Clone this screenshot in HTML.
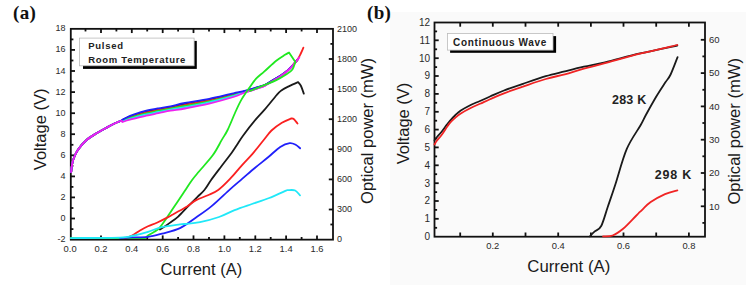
<!DOCTYPE html>
<html><head><meta charset="utf-8"><style>
html,body{margin:0;padding:0;background:#fff;width:750px;height:289px;overflow:hidden}
svg{display:block}
text{font-family:"Liberation Sans",sans-serif}
.serif{font-family:"Liberation Serif",serif}
</style></head><body>
<svg width="750" height="289" viewBox="0 0 750 289">
<rect x="0" y="0" width="750" height="289" fill="#fff"/>
<rect x="390" y="12" width="356" height="273" fill="#fafafa"/>

<g stroke="#111" stroke-width="1.8" fill="none">
<rect x="70.8" y="28.85" width="262.2" height="210.8"/>
<line x1="85.5" y1="239.6" x2="85.5" y2="237.0"/>
<line x1="85.5" y1="28.85" x2="85.5" y2="31.450000000000003"/>
<line x1="101.0" y1="239.6" x2="101.0" y2="235.4"/>
<line x1="101.0" y1="28.85" x2="101.0" y2="33.050000000000004"/>
<line x1="116.4" y1="239.6" x2="116.4" y2="237.0"/>
<line x1="116.4" y1="28.85" x2="116.4" y2="31.450000000000003"/>
<line x1="131.8" y1="239.6" x2="131.8" y2="235.4"/>
<line x1="131.8" y1="28.85" x2="131.8" y2="33.050000000000004"/>
<line x1="147.2" y1="239.6" x2="147.2" y2="237.0"/>
<line x1="147.2" y1="28.85" x2="147.2" y2="31.450000000000003"/>
<line x1="162.7" y1="239.6" x2="162.7" y2="235.4"/>
<line x1="162.7" y1="28.85" x2="162.7" y2="33.050000000000004"/>
<line x1="178.1" y1="239.6" x2="178.1" y2="237.0"/>
<line x1="178.1" y1="28.85" x2="178.1" y2="31.450000000000003"/>
<line x1="193.5" y1="239.6" x2="193.5" y2="235.4"/>
<line x1="193.5" y1="28.85" x2="193.5" y2="33.050000000000004"/>
<line x1="209.0" y1="239.6" x2="209.0" y2="237.0"/>
<line x1="209.0" y1="28.85" x2="209.0" y2="31.450000000000003"/>
<line x1="224.4" y1="239.6" x2="224.4" y2="235.4"/>
<line x1="224.4" y1="28.85" x2="224.4" y2="33.050000000000004"/>
<line x1="239.8" y1="239.6" x2="239.8" y2="237.0"/>
<line x1="239.8" y1="28.85" x2="239.8" y2="31.450000000000003"/>
<line x1="255.3" y1="239.6" x2="255.3" y2="235.4"/>
<line x1="255.3" y1="28.85" x2="255.3" y2="33.050000000000004"/>
<line x1="270.7" y1="239.6" x2="270.7" y2="237.0"/>
<line x1="270.7" y1="28.85" x2="270.7" y2="31.450000000000003"/>
<line x1="286.1" y1="239.6" x2="286.1" y2="235.4"/>
<line x1="286.1" y1="28.85" x2="286.1" y2="33.050000000000004"/>
<line x1="301.6" y1="239.6" x2="301.6" y2="237.0"/>
<line x1="301.6" y1="28.85" x2="301.6" y2="31.450000000000003"/>
<line x1="317.0" y1="239.6" x2="317.0" y2="235.4"/>
<line x1="317.0" y1="28.85" x2="317.0" y2="33.050000000000004"/>
<line x1="70.8" y1="229.1" x2="73.39999999999999" y2="229.1"/>
<line x1="70.8" y1="218.5" x2="75.0" y2="218.5"/>
<line x1="70.8" y1="208.0" x2="73.39999999999999" y2="208.0"/>
<line x1="70.8" y1="197.4" x2="75.0" y2="197.4"/>
<line x1="70.8" y1="186.9" x2="73.39999999999999" y2="186.9"/>
<line x1="70.8" y1="176.4" x2="75.0" y2="176.4"/>
<line x1="70.8" y1="165.8" x2="73.39999999999999" y2="165.8"/>
<line x1="70.8" y1="155.3" x2="75.0" y2="155.3"/>
<line x1="70.8" y1="144.8" x2="73.39999999999999" y2="144.8"/>
<line x1="70.8" y1="134.2" x2="75.0" y2="134.2"/>
<line x1="70.8" y1="123.7" x2="73.39999999999999" y2="123.7"/>
<line x1="70.8" y1="113.2" x2="75.0" y2="113.2"/>
<line x1="70.8" y1="102.6" x2="73.39999999999999" y2="102.6"/>
<line x1="70.8" y1="92.1" x2="75.0" y2="92.1"/>
<line x1="70.8" y1="81.5" x2="73.39999999999999" y2="81.5"/>
<line x1="70.8" y1="71.0" x2="75.0" y2="71.0"/>
<line x1="70.8" y1="60.5" x2="73.39999999999999" y2="60.5"/>
<line x1="70.8" y1="49.9" x2="75.0" y2="49.9"/>
<line x1="70.8" y1="39.4" x2="73.39999999999999" y2="39.4"/>
<line x1="333.0" y1="224.5" x2="330.4" y2="224.5"/>
<line x1="333.0" y1="209.5" x2="328.8" y2="209.5"/>
<line x1="333.0" y1="194.4" x2="330.4" y2="194.4"/>
<line x1="333.0" y1="179.4" x2="328.8" y2="179.4"/>
<line x1="333.0" y1="164.3" x2="330.4" y2="164.3"/>
<line x1="333.0" y1="149.3" x2="328.8" y2="149.3"/>
<line x1="333.0" y1="134.2" x2="330.4" y2="134.2"/>
<line x1="333.0" y1="119.2" x2="328.8" y2="119.2"/>
<line x1="333.0" y1="104.1" x2="330.4" y2="104.1"/>
<line x1="333.0" y1="89.1" x2="328.8" y2="89.1"/>
<line x1="333.0" y1="74.0" x2="330.4" y2="74.0"/>
<line x1="333.0" y1="59.0" x2="328.8" y2="59.0"/>
<line x1="333.0" y1="43.9" x2="330.4" y2="43.9"/>
</g>
<g fill="#2a2a2a" font-size="9">
<text transform="translate(65.6,242.1)" text-anchor="end">-2</text>
<text transform="translate(65.6,221.0)" text-anchor="end">0</text>
<text transform="translate(65.6,199.9)" text-anchor="end">2</text>
<text transform="translate(65.6,178.9)" text-anchor="end">4</text>
<text transform="translate(65.6,157.8)" text-anchor="end">6</text>
<text transform="translate(65.6,136.7)" text-anchor="end">8</text>
<text transform="translate(65.6,115.7)" text-anchor="end">10</text>
<text transform="translate(65.6,94.6)" text-anchor="end">12</text>
<text transform="translate(65.6,73.5)" text-anchor="end">14</text>
<text transform="translate(65.6,52.4)" text-anchor="end">16</text>
<text transform="translate(65.6,31.4)" text-anchor="end">18</text>
<text transform="translate(70.1,251.8)" text-anchor="middle" font-size="9.4">0.0</text>
<text transform="translate(101.0,251.8)" text-anchor="middle" font-size="9.4">0.2</text>
<text transform="translate(131.8,251.8)" text-anchor="middle" font-size="9.4">0.4</text>
<text transform="translate(162.7,251.8)" text-anchor="middle" font-size="9.4">0.6</text>
<text transform="translate(193.5,251.8)" text-anchor="middle" font-size="9.4">0.8</text>
<text transform="translate(224.4,251.8)" text-anchor="middle" font-size="9.4">1.0</text>
<text transform="translate(255.3,251.8)" text-anchor="middle" font-size="9.4">1.2</text>
<text transform="translate(286.1,251.8)" text-anchor="middle" font-size="9.4">1.4</text>
<text transform="translate(317.0,251.8)" text-anchor="middle" font-size="9.4">1.6</text>
<text transform="translate(337,242.4)">0</text>
<text transform="translate(337,212.3)">300</text>
<text transform="translate(337,182.2)">600</text>
<text transform="translate(337,152.1)">900</text>
<text transform="translate(337,122.0)">1200</text>
<text transform="translate(337,91.9)">1500</text>
<text transform="translate(337,61.8)">1800</text>
<text transform="translate(337,31.7)">2100</text>
</g>
<g fill="#1a1a1a">
<text x="160.6" y="275.2" font-size="16.5">Current (A)</text>
<text transform="translate(45.7,129.4) rotate(-90)" text-anchor="middle" font-size="16.5">Voltage (V)</text>
<text transform="translate(373,131.0) rotate(-90)" text-anchor="middle" font-size="16.5">Optical power (mW)</text>
</g>
<text class="serif" x="13" y="19" font-weight="bold" font-size="19" letter-spacing="0.3" fill="#111">(a)</text>
<rect x="83" y="40.9" width="113.8" height="28" fill="#000"/>
<rect x="79.5" y="38.1" width="114.6" height="27.7" fill="#fff" stroke="#bbb" stroke-width="0.8"/>
<g font-weight="bold" font-size="9.5" fill="#222" letter-spacing="0.72">
<text x="88.2" y="49.4">Pulsed</text>
<text x="88.2" y="62.5">Room Temperature</text>
</g>
<g fill="none" stroke-width="1.8" stroke-linejoin="round" stroke-linecap="round">
<path stroke="#1a1a1a" d="M71.2,172.0 C71.3,170.8 71.6,167.2 72.0,165.0 C72.4,162.8 72.5,161.5 73.5,159.0 C74.5,156.5 75.6,153.2 77.8,150.0 C80.0,146.8 83.6,142.6 86.8,139.8 C90.0,137.0 93.6,135.1 97.0,133.0 C100.4,130.9 104.0,129.0 107.0,127.4 C110.0,125.8 112.7,124.4 115.0,123.3 C117.3,122.2 119.7,121.3 120.9,120.8 C122.2,120.3 121.5,120.6 122.5,120.1 C123.5,119.6 125.0,118.7 127.0,117.9 C128.9,117.0 131.0,116.3 134.2,115.2 C137.4,114.2 142.3,112.7 146.3,111.7 C150.3,110.7 154.4,110.0 158.4,109.3 C162.4,108.5 166.1,108.0 170.5,107.2 C174.9,106.3 178.6,105.3 185.0,104.1 C191.4,102.9 201.1,101.4 209.2,99.8 C217.3,98.1 227.3,95.5 233.4,94.0 C239.5,92.6 241.5,92.1 245.5,91.0 C249.5,89.9 254.4,88.4 257.6,87.4 C260.9,86.4 262.6,86.1 265.0,85.0 C267.4,83.8 269.6,82.2 272.3,80.6 C275.0,79.0 278.4,77.1 281.0,75.4 C283.6,73.7 285.9,71.9 287.9,70.2 C289.9,68.4 291.5,66.7 293.1,65.0 C294.7,63.2 296.7,60.6 297.4,59.7"/>
<path stroke="#fa2020" d="M71.2,172.0 C71.3,170.8 71.6,167.2 72.0,165.0 C72.4,162.8 72.5,161.5 73.5,159.0 C74.5,156.5 75.6,153.2 77.8,150.0 C80.0,146.8 83.6,142.6 86.8,139.8 C90.0,137.0 93.6,135.1 97.0,133.0 C100.4,130.9 104.0,129.0 107.0,127.4 C110.0,125.8 112.7,124.4 115.0,123.3 C117.3,122.2 119.7,121.3 120.9,120.8 C122.2,120.3 121.5,120.8 122.5,120.4 C123.5,120.0 125.0,119.1 127.0,118.4 C128.9,117.6 131.0,116.9 134.2,115.9 C137.4,114.9 142.3,113.4 146.3,112.4 C150.3,111.4 154.4,110.8 158.4,110.0 C162.4,109.3 166.1,108.7 170.5,107.8 C174.9,107.0 178.6,106.2 185.0,104.9 C191.4,103.7 201.1,102.2 209.2,100.5 C217.3,98.8 227.3,96.1 233.4,94.6 C239.5,93.1 241.5,92.4 245.5,91.2 C249.5,90.1 254.4,88.6 257.6,87.6 C260.9,86.6 262.6,86.2 265.0,85.1 C267.4,83.9 269.6,82.3 272.3,80.7 C275.0,79.1 278.4,77.2 281.0,75.5 C283.6,73.7 285.9,72.0 287.9,70.2 C289.9,68.5 291.5,66.8 293.1,65.0 C294.7,63.3 296.7,60.6 297.4,59.8"/>
<path stroke="#20e820" d="M71.2,172.0 C71.3,170.8 71.6,167.2 72.0,165.0 C72.4,162.8 72.5,161.5 73.5,159.0 C74.5,156.5 75.6,153.2 77.8,150.0 C80.0,146.8 83.6,142.6 86.8,139.8 C90.0,137.0 93.6,135.1 97.0,133.0 C100.4,130.9 104.0,129.0 107.0,127.4 C110.0,125.8 112.7,124.4 115.0,123.3 C117.3,122.2 119.7,121.2 120.9,120.8 C122.2,120.4 121.5,121.2 122.5,120.9 C123.5,120.6 125.0,119.7 127.0,119.0 C128.9,118.3 131.0,117.6 134.2,116.7 C137.4,115.8 142.3,114.3 146.3,113.4 C150.3,112.4 154.4,111.8 158.4,111.0 C162.4,110.2 166.1,109.5 170.5,108.7 C174.9,107.9 178.6,107.2 185.0,106.0 C191.4,104.8 201.1,103.2 209.2,101.4 C217.3,99.7 227.3,97.0 233.4,95.3 C239.5,93.7 241.5,92.8 245.5,91.5 C249.5,90.3 254.4,88.9 257.6,87.9 C260.9,86.8 262.6,86.4 265.0,85.2 C267.4,84.1 269.6,82.5 272.3,80.9 C275.0,79.3 278.4,77.3 281.0,75.6 C283.6,73.8 285.9,72.1 287.9,70.3 C289.9,68.6 291.5,66.8 293.1,65.1 C294.7,63.3 296.7,60.7 297.4,59.8"/>
<path stroke="#20e8f8" d="M71.2,172.0 C71.3,170.8 71.6,167.2 72.0,165.0 C72.4,162.8 72.5,161.5 73.5,159.0 C74.5,156.5 75.6,153.2 77.8,150.0 C80.0,146.8 83.6,142.6 86.8,139.8 C90.0,137.0 93.6,135.1 97.0,133.0 C100.4,130.9 104.0,129.0 107.0,127.4 C110.0,125.8 112.7,124.4 115.0,123.3 C117.3,122.2 119.7,121.1 120.9,120.8 C122.2,120.5 121.5,121.5 122.5,121.3 C123.5,121.1 125.0,120.3 127.0,119.7 C128.9,119.1 131.0,118.4 134.2,117.5 C137.4,116.7 142.3,115.3 146.3,114.4 C150.3,113.4 154.4,112.8 158.4,112.0 C162.4,111.2 166.1,110.4 170.5,109.6 C174.9,108.8 178.6,108.3 185.0,107.1 C191.4,105.9 201.1,104.2 209.2,102.4 C217.3,100.6 227.3,97.8 233.4,96.1 C239.5,94.3 241.5,93.2 245.5,91.8 C249.5,90.5 254.4,89.2 257.6,88.1 C260.9,87.0 262.6,86.6 265.0,85.4 C267.4,84.2 269.6,82.6 272.3,81.0 C275.0,79.4 278.4,77.4 281.0,75.7 C283.6,73.9 285.9,72.2 287.9,70.4 C289.9,68.6 291.5,66.9 293.1,65.1 C294.7,63.4 296.7,60.7 297.4,59.9"/>
<path stroke="#ee22ee" d="M71.2,172.0 C71.3,170.8 71.6,167.2 72.0,165.0 C72.4,162.8 72.5,161.5 73.5,159.0 C74.5,156.5 75.6,153.2 77.8,150.0 C80.0,146.8 83.6,142.6 86.8,139.8 C90.0,137.0 93.6,135.1 97.0,133.0 C100.4,130.9 104.0,129.0 107.0,127.4 C110.0,125.8 112.7,124.4 115.0,123.3 C117.3,122.2 119.7,121.0 120.9,120.8 C122.2,120.5 121.5,121.8 122.5,121.8 C123.5,121.8 125.0,121.0 127.0,120.5 C128.9,120.0 131.0,119.4 134.2,118.6 C137.4,117.8 142.3,116.5 146.3,115.6 C150.3,114.7 154.4,114.0 158.4,113.2 C162.4,112.4 166.1,111.5 170.5,110.7 C174.9,109.9 178.6,109.7 185.0,108.5 C191.4,107.3 201.1,105.5 209.2,103.6 C217.3,101.7 227.3,98.9 233.4,97.0 C239.5,95.1 241.5,93.6 245.5,92.2 C249.5,90.8 254.4,89.5 257.6,88.4 C260.9,87.3 262.6,86.8 265.0,85.6 C267.4,84.4 269.6,82.8 272.3,81.2 C275.0,79.6 278.4,77.6 281.0,75.8 C283.6,74.0 285.9,72.3 287.9,70.5 C289.9,68.7 291.5,67.0 293.1,65.2 C294.7,63.4 296.7,60.8 297.4,59.9"/>
<path stroke="#2020fa" d="M71.2,172.0 C71.3,170.8 71.6,167.2 72.0,165.0 C72.4,162.8 72.5,161.5 73.5,159.0 C74.5,156.5 75.6,153.2 77.8,150.0 C80.0,146.8 83.6,142.6 86.8,139.8 C90.0,137.0 93.6,135.1 97.0,133.0 C100.4,130.9 104.0,129.0 107.0,127.4 C110.0,125.8 112.7,124.4 115.0,123.3 C117.3,122.2 119.7,121.4 120.9,120.8 C122.2,120.2 121.5,120.3 122.5,119.7 C123.5,119.1 125.0,118.1 127.0,117.2 C128.9,116.3 131.0,115.5 134.2,114.4 C137.4,113.3 142.3,111.7 146.3,110.7 C150.3,109.7 154.4,109.0 158.4,108.3 C162.4,107.6 166.1,107.2 170.5,106.3 C174.9,105.4 178.6,104.2 185.0,103.0 C191.4,101.8 201.1,100.4 209.2,98.8 C217.3,97.2 227.3,94.6 233.4,93.3 C239.5,92.0 241.5,91.7 245.5,90.7 C249.5,89.7 254.4,88.2 257.6,87.2 C260.9,86.2 262.6,85.9 265.0,84.8 C267.4,83.7 269.6,82.1 272.3,80.5 C275.0,78.9 278.4,77.0 281.0,75.3 C283.6,73.6 285.9,71.8 287.9,70.1 C289.9,68.4 291.5,66.6 293.1,64.9 C294.7,63.2 296.7,60.6 297.4,59.7"/>
<path stroke="#ee22ee" d="M71.2,172.0 C71.3,170.8 71.6,167.2 72.0,165.0 C72.4,162.8 72.5,161.5 73.5,159.0 C74.5,156.5 75.6,153.2 77.8,150.0 C80.0,146.8 83.6,142.6 86.8,139.8 C90.0,137.0 93.6,135.1 97.0,133.0 C100.4,130.9 104.0,129.0 107.0,127.4 C110.0,125.8 112.7,124.4 115.0,123.3 C117.3,122.2 119.7,121.0 120.9,120.8 C122.2,120.5 122.2,121.6 122.5,121.8"/>
<path stroke="#fa2020" d="M293.1,65.0 C293.8,64.1 296.1,61.7 297.4,59.8 C298.7,57.9 299.8,55.5 300.8,53.5 C301.8,51.5 303.0,48.6 303.4,47.6"/>
<path stroke="#ee22ee" d="M245.5,92.2 C247.5,91.6 254.4,89.5 257.6,88.4 C260.9,87.3 262.6,86.8 265.0,85.6 C267.4,84.4 269.6,82.8 272.3,81.2 C275.0,79.6 278.4,77.6 281.0,75.8 C283.6,74.0 285.9,72.3 287.9,70.5 C289.9,68.7 291.5,67.0 293.1,65.2 C294.7,63.4 296.4,61.2 297.4,59.9 C298.4,58.6 299.0,57.9 299.3,57.5"/>
<path stroke="#20e820" d="M70.8,238.1 L145.2,238.1 L145.2,238.1 C145.7,237.7 146.5,236.5 148.0,235.5 C149.5,234.5 152.1,233.2 154.0,232.0 C155.9,230.8 157.5,230.0 159.3,228.1 C161.1,226.2 163.4,222.8 164.9,220.6 C166.4,218.4 166.9,217.5 168.6,215.0 C170.3,212.5 172.2,209.8 175.0,205.6 C177.8,201.4 182.6,194.3 185.4,190.0 C188.2,185.7 189.8,183.1 192.1,180.0 C194.4,176.9 195.5,175.7 199.0,171.5 C202.5,167.3 209.2,160.3 212.9,155.1 C216.7,149.9 219.1,144.6 221.5,140.4 C223.9,136.2 225.3,134.7 227.6,130.0 C229.9,125.3 232.9,117.6 235.2,112.5 C237.5,107.4 239.1,103.7 241.6,99.4 C244.1,95.2 247.5,90.5 249.9,87.0 C252.3,83.5 253.7,81.3 256.1,78.7 C258.5,76.1 261.1,74.4 264.4,71.4 C267.7,68.5 272.5,63.8 275.9,61.0 C279.3,58.2 282.8,56.2 285.0,54.8 C287.2,53.4 288.3,52.9 289.0,52.5 L289.0,52.5 L295.2,61.8 L295.2,62.5 C294.7,63.7 293.8,67.6 292.4,69.5 C291.0,71.4 289.7,72.2 286.9,74.0 C284.1,75.8 279.8,78.5 275.8,80.4 C271.8,82.3 267.3,83.8 263.0,85.6 C258.7,87.4 252.2,90.1 250.0,91.0 "/>
<path stroke="#1a1a1a" d="M160.0,229.5 C160.7,229.1 162.3,228.2 163.9,227.1 C165.5,226.0 167.5,224.6 169.8,222.9 C172.1,221.2 174.7,219.8 177.9,216.9 C181.1,214.0 185.5,208.9 188.8,205.6 C192.1,202.3 194.9,199.5 197.5,196.9 C200.1,194.3 202.1,192.8 204.4,190.0 C206.7,187.2 208.4,183.8 211.1,180.0 C213.8,176.2 217.2,171.8 220.7,167.2 C224.2,162.6 229.2,156.2 231.9,152.5 C234.6,148.8 235.1,147.8 236.9,145.0 C238.8,142.2 239.8,140.0 243.0,135.7 C246.2,131.4 252.4,123.5 256.0,119.2 C259.6,114.9 261.2,113.7 264.6,109.7 C268.1,105.7 274.0,98.2 276.7,95.0 C279.4,91.8 279.2,92.0 281.0,90.7 C282.8,89.4 284.8,88.3 287.6,86.9 C290.5,85.5 296.4,82.9 298.1,82.1 L298.1,82.1 C298.6,82.8 300.1,84.1 301.0,86.0 C301.9,87.9 303.3,92.3 303.8,93.6 "/>
<path stroke="#fa2020" d="M125.0,238.1 C126.2,237.7 129.6,236.9 132.1,235.6 C134.6,234.3 137.3,232.1 140.0,230.5 C142.7,228.9 145.1,227.5 148.0,226.2 C150.9,224.9 154.0,224.1 157.4,222.5 C160.8,220.9 165.9,218.3 168.6,216.9 C171.2,215.5 170.2,215.9 173.3,214.2 C176.4,212.4 183.4,208.7 187.1,206.4 C190.8,204.1 192.2,202.3 195.7,200.4 C199.2,198.5 204.2,196.9 207.9,195.2 C211.7,193.5 214.5,192.7 218.2,190.0 C221.9,187.3 226.0,183.1 230.0,178.9 C234.0,174.8 238.3,169.3 242.1,165.1 C245.8,160.9 248.9,158.0 252.5,153.8 C256.1,149.6 260.5,143.9 263.7,140.0 C266.9,136.1 268.5,133.4 271.5,130.5 C274.5,127.6 278.6,124.7 281.9,122.7 C285.2,120.7 289.8,119.1 291.4,118.4 L291.4,118.4 C291.8,118.5 293.0,118.4 294.0,119.2 C295.0,120.0 296.9,122.8 297.5,123.5 "/>
<path stroke="#2020fa" d="M120.0,238.1 C122.0,238.0 127.4,237.6 132.1,237.4 C136.8,237.2 143.0,237.4 148.0,236.8 C153.0,236.2 156.7,235.1 162.0,233.7 C167.3,232.2 174.4,230.8 180.0,228.1 C185.6,225.4 190.5,221.3 195.7,217.7 C200.9,214.1 205.6,211.1 211.3,206.4 C217.0,201.7 224.9,193.9 230.0,189.3 C235.1,184.7 237.9,182.5 242.1,178.9 C246.3,175.3 250.8,171.3 255.1,167.7 C259.4,164.1 263.9,160.8 268.1,157.3 C272.3,153.8 276.6,149.3 280.2,146.9 C283.8,144.5 287.1,143.4 289.7,143.1 C292.3,142.8 294.0,143.9 295.7,144.8 C297.4,145.7 299.4,147.7 300.1,148.3"/>
<path stroke="#20e8f8" d="M70.8,238.1 C79.0,238.0 109.8,237.9 120.0,237.6 C130.2,237.2 127.4,237.0 132.1,236.0 C136.8,235.0 143.0,233.3 148.0,231.8 C153.0,230.3 156.7,228.3 162.0,227.1 C167.3,225.8 175.8,224.9 180.0,224.3 C184.2,223.8 183.8,224.2 187.1,223.8 C190.4,223.5 194.7,223.3 200.0,222.2 C205.3,221.1 213.2,219.0 219.0,217.0 C224.8,215.0 229.1,212.3 234.6,210.1 C240.1,207.9 246.1,206.0 251.9,204.0 C257.7,202.0 263.7,200.2 269.2,198.0 C274.7,195.8 281.6,192.4 284.8,191.1 C288.0,189.8 286.5,190.3 288.2,190.2 C289.9,190.1 293.2,189.6 295.2,190.5 C297.2,191.4 299.2,194.6 300.0,195.4"/>
</g>
<g stroke="#111" stroke-width="1.8" fill="none">
<rect x="434.5" y="22.5" width="270.5" height="214.2"/>
<line x1="460.2" y1="236.7" x2="460.2" y2="232.5"/>
<line x1="460.2" y1="22.5" x2="460.2" y2="26.7"/>
<line x1="492.8" y1="236.7" x2="492.8" y2="232.5"/>
<line x1="492.8" y1="22.5" x2="492.8" y2="26.7"/>
<line x1="525.5" y1="236.7" x2="525.5" y2="232.5"/>
<line x1="525.5" y1="22.5" x2="525.5" y2="26.7"/>
<line x1="558.2" y1="236.7" x2="558.2" y2="232.5"/>
<line x1="558.2" y1="22.5" x2="558.2" y2="26.7"/>
<line x1="590.9" y1="236.7" x2="590.9" y2="232.5"/>
<line x1="590.9" y1="22.5" x2="590.9" y2="26.7"/>
<line x1="623.5" y1="236.7" x2="623.5" y2="232.5"/>
<line x1="623.5" y1="22.5" x2="623.5" y2="26.7"/>
<line x1="656.2" y1="236.7" x2="656.2" y2="232.5"/>
<line x1="656.2" y1="22.5" x2="656.2" y2="26.7"/>
<line x1="688.9" y1="236.7" x2="688.9" y2="232.5"/>
<line x1="688.9" y1="22.5" x2="688.9" y2="26.7"/>
<line x1="434.5" y1="227.8" x2="437.1" y2="227.8"/>
<line x1="434.5" y1="218.8" x2="438.7" y2="218.8"/>
<line x1="434.5" y1="209.9" x2="437.1" y2="209.9"/>
<line x1="434.5" y1="201.0" x2="438.7" y2="201.0"/>
<line x1="434.5" y1="192.1" x2="437.1" y2="192.1"/>
<line x1="434.5" y1="183.2" x2="438.7" y2="183.2"/>
<line x1="434.5" y1="174.2" x2="437.1" y2="174.2"/>
<line x1="434.5" y1="165.3" x2="438.7" y2="165.3"/>
<line x1="434.5" y1="156.4" x2="437.1" y2="156.4"/>
<line x1="434.5" y1="147.4" x2="438.7" y2="147.4"/>
<line x1="434.5" y1="138.5" x2="437.1" y2="138.5"/>
<line x1="434.5" y1="129.6" x2="438.7" y2="129.6"/>
<line x1="434.5" y1="120.7" x2="437.1" y2="120.7"/>
<line x1="434.5" y1="111.8" x2="438.7" y2="111.8"/>
<line x1="434.5" y1="102.8" x2="437.1" y2="102.8"/>
<line x1="434.5" y1="93.9" x2="438.7" y2="93.9"/>
<line x1="434.5" y1="85.0" x2="437.1" y2="85.0"/>
<line x1="434.5" y1="76.0" x2="438.7" y2="76.0"/>
<line x1="434.5" y1="67.1" x2="437.1" y2="67.1"/>
<line x1="434.5" y1="58.2" x2="438.7" y2="58.2"/>
<line x1="434.5" y1="49.3" x2="437.1" y2="49.3"/>
<line x1="434.5" y1="40.3" x2="438.7" y2="40.3"/>
<line x1="434.5" y1="31.4" x2="437.1" y2="31.4"/>
<line x1="705.0" y1="222.9" x2="702.4" y2="222.9"/>
<line x1="705.0" y1="206.3" x2="700.8" y2="206.3"/>
<line x1="705.0" y1="189.6" x2="702.4" y2="189.6"/>
<line x1="705.0" y1="173.0" x2="700.8" y2="173.0"/>
<line x1="705.0" y1="156.3" x2="702.4" y2="156.3"/>
<line x1="705.0" y1="139.7" x2="700.8" y2="139.7"/>
<line x1="705.0" y1="123.0" x2="702.4" y2="123.0"/>
<line x1="705.0" y1="106.4" x2="700.8" y2="106.4"/>
<line x1="705.0" y1="89.8" x2="702.4" y2="89.8"/>
<line x1="705.0" y1="73.1" x2="700.8" y2="73.1"/>
<line x1="705.0" y1="56.4" x2="702.4" y2="56.4"/>
<line x1="705.0" y1="39.8" x2="700.8" y2="39.8"/>
</g>
<g fill="#2a2a2a" font-size="9">
<text transform="translate(430,240.0)" text-anchor="end" font-size="10">0</text>
<text transform="translate(430,222.2)" text-anchor="end" font-size="10">1</text>
<text transform="translate(430,204.3)" text-anchor="end" font-size="10">2</text>
<text transform="translate(430,186.5)" text-anchor="end" font-size="10">3</text>
<text transform="translate(430,168.6)" text-anchor="end" font-size="10">4</text>
<text transform="translate(430,150.8)" text-anchor="end" font-size="10">5</text>
<text transform="translate(430,132.9)" text-anchor="end" font-size="10">6</text>
<text transform="translate(430,115.0)" text-anchor="end" font-size="10">7</text>
<text transform="translate(430,97.2)" text-anchor="end" font-size="10">8</text>
<text transform="translate(430,79.3)" text-anchor="end" font-size="10">9</text>
<text transform="translate(430,61.5)" text-anchor="end" font-size="10">10</text>
<text transform="translate(430,43.6)" text-anchor="end" font-size="10">11</text>
<text transform="translate(430,25.8)" text-anchor="end" font-size="10">12</text>
<text transform="translate(492.8,249)" text-anchor="middle" font-size="9.4">0.2</text>
<text transform="translate(558.2,249)" text-anchor="middle" font-size="9.4">0.4</text>
<text transform="translate(623.5,249)" text-anchor="middle" font-size="9.4">0.6</text>
<text transform="translate(688.9,249)" text-anchor="middle" font-size="9.4">0.8</text>
<text transform="translate(709,209.6)" font-size="9.5">10</text>
<text transform="translate(709,176.3)" font-size="9.5">20</text>
<text transform="translate(709,143.0)" font-size="9.5">30</text>
<text transform="translate(709,109.7)" font-size="9.5">40</text>
<text transform="translate(709,76.4)" font-size="9.5">50</text>
<text transform="translate(709,43.1)" font-size="9.5">60</text>
</g>
<g fill="#1a1a1a">
<text x="527.3" y="272.3" font-size="16.8">Current (A)</text>
<text transform="translate(408.5,123.5) rotate(-90)" text-anchor="middle" font-size="16.5">Voltage (V)</text>
<text transform="translate(740,131.3) rotate(-90)" text-anchor="middle" font-size="16.6">Optical power (mW)</text>
</g>
<text class="serif" x="367" y="19" font-weight="bold" font-size="19" letter-spacing="0.3" fill="#111">(b)</text>
<rect x="450.1" y="36.1" width="106" height="16.7" fill="#000"/>
<rect x="447.5" y="33.5" width="105.5" height="16.6" fill="#fff" stroke="#bbb" stroke-width="0.8"/>
<text x="453.1" y="45.6" font-weight="bold" font-size="10" letter-spacing="0.65" fill="#222">Continuous Wave</text>
<g font-weight="bold" font-size="12.5" fill="#222">
<text x="612" y="103.6" letter-spacing="0.2">283 K</text>
<text x="654.7" y="178.7" letter-spacing="0.8">298 K</text>
</g>
<g fill="none" stroke-width="1.8" stroke-linejoin="round" stroke-linecap="round">
<path stroke="#1a1a1a" d="M434.5,140.2 C434.9,139.7 435.9,138.4 437.0,137.0 C438.1,135.6 439.7,134.1 441.4,132.0 C443.1,129.9 445.6,126.2 447.1,124.3 C448.6,122.3 449.1,121.8 450.4,120.3 C451.7,118.8 453.3,117.1 455.0,115.5 C456.7,113.9 458.1,112.3 460.8,110.5 C463.5,108.7 468.0,106.3 471.2,104.7 C474.4,103.1 476.9,102.4 480.0,101.0 C483.1,99.6 486.0,98.2 490.0,96.5 C494.0,94.8 498.5,92.6 504.0,90.5 C509.5,88.4 516.0,86.2 523.0,83.8 C530.0,81.4 538.8,78.3 545.8,76.2 C552.8,74.1 558.4,73.0 564.8,71.4 C571.1,69.8 577.2,68.2 583.9,66.7 C590.6,65.2 595.6,64.5 605.0,62.3 C614.4,60.1 628.0,56.2 640.0,53.4 C652.0,50.6 671.1,46.8 677.3,45.5"/>
<path stroke="#f02424" d="M434.5,144.5 C434.9,143.8 435.9,142.0 437.0,140.5 C438.1,139.0 439.7,137.6 441.4,135.3 C443.1,133.0 445.6,129.0 447.1,126.8 C448.6,124.6 449.1,123.8 450.4,122.3 C451.7,120.8 453.3,119.5 455.0,118.0 C456.7,116.5 458.1,115.2 460.8,113.5 C463.5,111.8 468.0,109.4 471.2,107.8 C474.4,106.2 476.9,105.2 480.0,103.8 C483.1,102.4 486.0,101.0 490.0,99.2 C494.0,97.5 498.5,95.4 504.0,93.3 C509.5,91.2 516.0,89.0 523.0,86.6 C530.0,84.2 538.8,81.0 545.8,79.0 C552.8,77.0 558.4,76.0 564.8,74.3 C571.1,72.6 577.2,70.4 583.9,68.6 C590.6,66.8 595.6,65.7 605.0,63.2 C614.4,60.7 628.0,56.7 640.0,53.7 C652.0,50.7 671.1,46.5 677.3,45.0"/>
<path stroke="#1a1a1a" d="M589.8,236.4 C590.6,235.6 592.6,233.4 594.5,231.7 C596.4,230.0 599.0,230.2 601.2,226.0 C603.4,221.8 605.5,213.5 607.9,206.5 C610.3,199.5 612.4,193.6 615.5,184.0 C618.6,174.4 622.6,158.7 626.8,148.9 C631.0,139.1 637.5,130.7 640.7,125.0 C643.9,119.3 643.4,119.5 646.0,114.7 C648.6,110.0 653.1,101.9 656.3,96.5 C659.5,91.1 663.0,86.0 665.4,82.3 C667.8,78.6 668.6,78.7 670.6,74.5 C672.6,70.3 676.4,60.0 677.6,57.1"/>
<path stroke="#f02424" d="M603.1,236.4 C604.7,236.2 609.3,236.8 612.6,235.5 C615.9,234.2 619.1,232.1 623.1,228.8 C627.1,225.5 633.5,218.3 636.4,215.5 C639.2,212.7 637.8,213.9 640.2,211.7 C642.6,209.5 646.6,205.0 650.7,202.1 C654.8,199.2 660.5,196.1 665.0,194.1 C669.5,192.1 675.3,190.9 677.4,190.3"/>
</g>
</svg></body></html>
